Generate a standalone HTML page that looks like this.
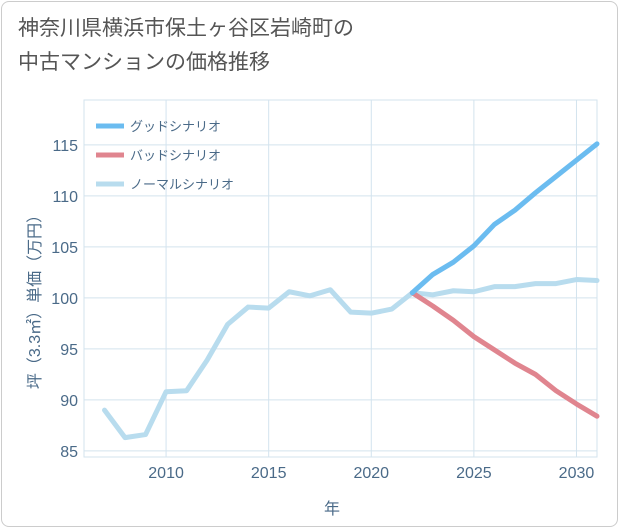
<!DOCTYPE html>
<html><head><meta charset="utf-8"><style>
body{margin:0;background:#fff;}
#wrap{position:relative;width:621px;height:530px;font-family:"Liberation Sans","Noto Sans CJK JP",sans-serif;}
#frame{position:absolute;left:1px;top:1px;width:617px;height:526px;border:1px solid #ccc;border-radius:8px;box-sizing:border-box;}
#title{position:absolute;left:18px;top:12px;font-size:21px;line-height:34px;color:#555;}
</style></head><body>
<div id="wrap">
<div id="frame"></div>
<div id="title">神奈川県横浜市保土ヶ谷区岩崎町の<br>中古マンションの価格推移</div>
<svg id="svg" width="621" height="530" style="position:absolute;left:0;top:0"></svg>
</div>
<script>
const normalYears=[2007,2008,2009,2010,2011,2012,2013,2014,2015,2016,2017,2018,2019,2020,2021,2022,2023,2024,2025,2026,2027,2028,2029,2030,2031];
const normalVals=[89,86.3,86.6,90.8,90.9,93.9,97.4,99.1,99.0,100.6,100.2,100.8,98.6,98.5,98.9,100.5,100.3,100.7,100.6,101.1,101.1,101.4,101.4,101.8,101.7];
const projYears=[2022,2023,2024,2025,2026,2027,2028,2029,2030,2031];
const goodVals=[100.5,102.3,103.5,105.1,107.2,108.6,110.3,111.9,113.5,115.1];
const badVals=[100.5,99.2,97.8,96.2,94.9,93.6,92.5,90.9,89.6,88.4];
const xTicks=[2010,2015,2020,2025,2030];
const yTicks=[85,90,95,100,105,110,115];
const legendLabels=["グッドシナリオ","バッドシナリオ","ノーマルシナリオ"];
const colors=["#6bbcf0","#e0858f","#b8dcee"];

const L=84,R=597,T=100,B=457;
const x0=2006,x1=2031,y0=84.4,y1=119.4;
const X=v=>L+(v-x0)/(x1-x0)*(R-L);
const Y=v=>B-(v-y0)/(y1-y0)*(B-T);
const svg=document.getElementById('svg');
const NS='http://www.w3.org/2000/svg';
function mk(tag,attrs,parent){const e=document.createElementNS(NS,tag);for(const k in attrs)e.setAttribute(k,attrs[k]);(parent||svg).appendChild(e);return e;}

xTicks.forEach(t=>{
  const l=mk('line',{x1:X(t),x2:X(t),y1:T,y2:B,stroke:'#d3e3ee','stroke-width':1});
  
  
  const tx=mk('text',{x:X(t),y:478,'text-anchor':'middle','font-size':16,fill:'#4a6a88'});
  tx.textContent=t;
  
  
});
yTicks.forEach(t=>{
  const l=mk('line',{x1:L,x2:R,y1:Y(t),y2:Y(t),stroke:'#d3e3ee','stroke-width':1});
  
  
  const tx=mk('text',{x:78,y:Y(t)+6,'text-anchor':'end','font-size':16,fill:'#4a6a88'});
  tx.textContent=t;
  
  
});
const ax=mk('rect',{x:L,y:T,width:R-L,height:B-T,fill:'none',stroke:'#d3e3ee'});



function line(xs,vs,c,name){
  const p=mk('polyline',{points:xs.map((x,i)=>X(x)+','+Y(vs[i])).join(' '),fill:'none',stroke:c,'stroke-width':5,'stroke-linejoin':'round','stroke-linecap':'round'});
  
  
}
line(normalYears,normalVals,colors[2],'normal-scenario-line');
line(projYears,badVals,colors[1],'bad-scenario-line');
line(projYears,goodVals,colors[0],'good-scenario-line');

legendLabels.forEach((lab,i)=>{
  const y=126+i*29;
  const l=mk('line',{x1:96,x2:124,y1:y,y2:y,stroke:colors[i],'stroke-width':5});
  
  
  const t=mk('text',{x:130,y:y+5,'font-size':13,fill:'#4a6a88'});
  t.textContent=lab;
  
  
});
const xt=mk('text',{x:332,y:514,'text-anchor':'middle','font-size':16,fill:'#4a6a88'});
xt.textContent='年';


const yt=mk('text',{x:0,y:0,'text-anchor':'middle','font-size':16,fill:'#4a6a88',transform:'translate(40,298) rotate(-90)'});
yt.textContent='坪（3.3㎡）単価（万円）';


</script>
</body></html>
